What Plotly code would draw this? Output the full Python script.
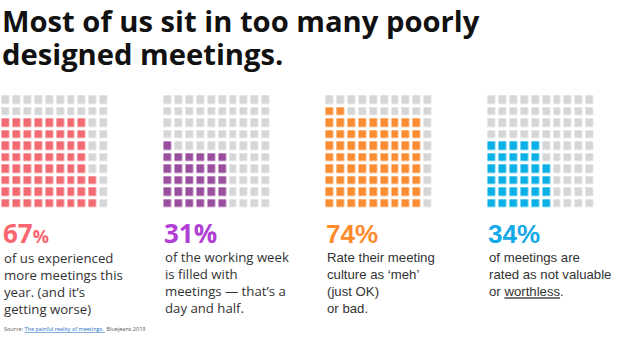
import plotly.graph_objects as go

W, H = 628, 339

# ---------------- data ----------------
percents = [67, 31, 74, 34]
# filled cells per row of each 10x10 waffle (top row first)
row_fill = [
    [0, 0, 8, 8, 8, 8, 8, 9, 9, 9],
    [0, 0, 0, 0, 1, 6, 6, 6, 6, 6],
    [0, 2, 9, 9, 9, 9, 9, 9, 9, 9],
    [0, 0, 0, 0, 5, 5, 6, 6, 6, 6],
]
descriptions = [
    ["of us experienced", "more meetings this", "year. (and it’s", "getting worse)"],
    ["of the working week", "is filled with", "meetings — that’s a", "day and half."],
    ["Rate their meeting", "culture as ‘meh’", "(just OK)", "or bad."],
    ["of meetings are", "rated as not valuable", "or <u>worthless</u>."],
]
title_lines = ["Most of us sit in too many poorly", "designed meetings."]

# ---------------- styles ----------------
fill_colors = ["#f26b73", "#9a4e9e", "#fa8c31", "#0bb0e6"]
empty_color = "#d4d6d8"
pct_colors = ["#f8676f", "#b040d4", "#ff8a2b", "#12a9e8"]
fonts = ["Open Sans", "Open Sans", "Liberation Sans, Arial", "Liberation Sans, Arial"]
base_off = [0.388, 0.388, 0.346, 0.346]  # baseline offset below box middle (em)
text_color = "#333333"


def px_x(v):
    return v / W


def px_y(v):
    return 1 - v / H


fig = go.Figure()
col_left = [3, 164, 326, 488]
grid_x0 = [0.4, 162.4, 324.4, 486.4]
grid_w = 109.2
grid_top, grid_bot = 94.3, 209.7

layout_axes = {}
for i in range(4):
    z = [[1 if c < n else 0 for c in range(10)] for n in row_fill[i]]
    xa = "x" if i == 0 else f"x{i+1}"
    ya = "y" if i == 0 else f"y{i+1}"
    fig.add_trace(go.Heatmap(
        z=z, x=list(range(10)), y=list(range(10)),
        colorscale=[[0, empty_color], [1, fill_colors[i]]],
        zmin=0, zmax=1, showscale=False, xgap=3.3, ygap=3.4,
        hoverinfo="skip", xaxis=xa, yaxis=ya,
    ))
    kx = "xaxis" if i == 0 else f"xaxis{i+1}"
    ky = "yaxis" if i == 0 else f"yaxis{i+1}"
    layout_axes[kx] = dict(domain=[px_x(grid_x0[i]), px_x(grid_x0[i] + grid_w)],
                           range=[-0.5, 9.5], visible=False, fixedrange=True,
                           anchor=ya)
    layout_axes[ky] = dict(domain=[px_y(grid_bot), px_y(grid_top)],
                           range=[9.5, -0.5], visible=False, fixedrange=True,
                           anchor=xa)

annotations = []


def add_text(lines, x, baseline, size, family, color, off=0.388):
    if isinstance(lines, str):
        lines = [lines]
    n = len(lines)
    last = baseline + (n - 1) * 1.3 * size
    center = (baseline + last) / 2 - off * size
    annotations.append(dict(
        text="<br>".join(lines), x=px_x(x), y=px_y(center), align="left",
        xref="paper", yref="paper", xanchor="left", yanchor="middle",
        showarrow=False, font=dict(family=family, size=size, color=color),
        borderpad=0,
    ))


# title (first line anchored to the top edge, second line below)
annotations.append(dict(
    text="<b>" + title_lines[0] + "</b>", x=px_x(1), y=1, xref="paper", yref="paper",
    xanchor="left", yanchor="top", showarrow=False, borderpad=0,
    font=dict(family="Open Sans", size=29.2, color="#111111"),
))
add_text("<b>" + title_lines[1] + "</b>", 1, 65, 29.2, "Open Sans", "#111111")

# percentages + descriptions
body_first = [263, 262, 262, 262]
for i in range(4):
    if i == 0:
        pct_txt = f"<b>{percents[i]}<span style='font-size:18px'>%</span></b>"
    else:
        pct_txt = f"<b>{percents[i]}%</b>"
    add_text(pct_txt, col_left[i] - 1, 243, 26, fonts[i], pct_colors[i], base_off[i])
    add_text(descriptions[i], col_left[i], body_first[i], 13.2, fonts[i],
             text_color, base_off[i])

# source
add_text("Source: <span style='color:#1a6fc9'><u>The painful reality of meetings. </u></span> Bluejeans 2019",
         3, 331, 5.5, "Open Sans", "#555555")

fig.update_layout(
    width=W, height=H, margin=dict(l=0, r=0, t=0, b=0),
    paper_bgcolor="white", plot_bgcolor="white",
    showlegend=False, annotations=annotations, **layout_axes,
)

fig.write_html("out.html", config={"displayModeBar": False})
